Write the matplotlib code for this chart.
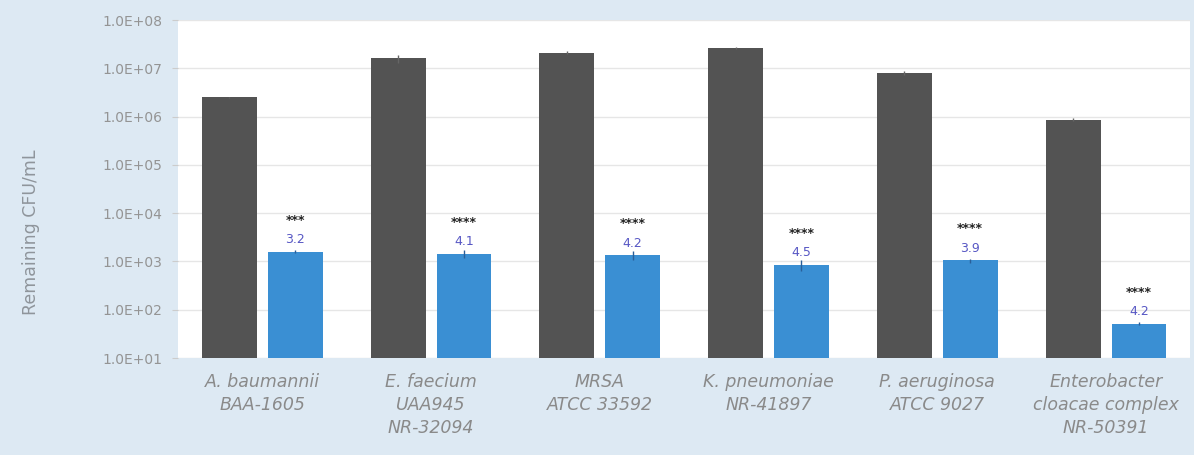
import numpy as np
import matplotlib.pyplot as plt
from matplotlib.ticker import FixedLocator, FuncFormatter

# Strains on the x axis
strains = ["A. baumannii\nBAA-1605",
           "E. faecium\nUAA945\nNR-32094",
           "MRSA\nATCC 33592",
           "K. pneumoniae\nNR-41897",
           "P. aeruginosa\nATCC 9027",
           "Enterobacter\ncloacae complex\nNR-50391"]

# Remaining CFU/mL
control = [2.5e6, 1.6e7, 2.1e7, 2.6e7, 8.0e6, 8.7e5]
control_err = [0.1e6, 0.3e7, 0.15e7, 0.1e7, 0.8e6, 0.5e5]
treated = [1.6e3, 1.45e3, 1.35e3, 8.5e2, 1.05e3, 5.2e1]
treated_err = [0.1e3, 0.25e3, 0.3e3, 0.2e3, 0.1e3, 0.3e1]

stars = ["***", "****", "****", "****", "****", "****"]
log_red = ["3.2", "4.1", "4.2", "4.5", "3.9", "4.2"]

bg = "#dde9f3"
dark = "#535353"
blue = "#3a8fd3"
txt = "#8a8a8a"

fig = plt.figure(figsize=(11.94, 4.55), dpi=100, facecolor=bg)
ax = fig.add_axes([0.149, 0.213, 0.848, 0.743])
ax.set_facecolor("white")

x = np.arange(len(strains))
w = 0.325
off = 0.195

ax.bar(x - off, control, w, color=dark, yerr=control_err,
       error_kw=dict(ecolor="#666666", elinewidth=1, capsize=0), zorder=3)
ax.bar(x + off, treated, w, color=blue, yerr=treated_err,
       error_kw=dict(ecolor="#2a5f99", elinewidth=1, capsize=0), zorder=3)

for i in range(len(strains)):
    top = treated[i]
    ax.annotate(log_red[i], (x[i] + off, top), xytext=(0, 4),
                textcoords="offset points", ha="center", va="bottom",
                fontsize=9, color="#5757c4", zorder=4)
    ax.annotate(stars[i], (x[i] + off, top), xytext=(0, 18),
                textcoords="offset points", ha="center", va="bottom",
                fontsize=9, fontweight="bold", color="#222222", zorder=4)

ax.set_yscale("log")
ax.set_ylim(1e1, 1e8)
ax.set_xlim(-0.5, 5.5)
ax.yaxis.set_major_locator(FixedLocator([10.0 ** k for k in range(1, 9)]))
ax.yaxis.set_minor_locator(FixedLocator([]))
ax.yaxis.set_major_formatter(FuncFormatter(lambda v, p: "1.0E+%02d" % round(np.log10(v))))
ax.grid(axis="y", color="#e6e6e6", linewidth=1, zorder=0)

ax.set_xticks(x)
ax.set_xticklabels(strains, fontsize=12.5, style="italic", color=txt, linespacing=1.35)
ax.tick_params(axis="x", length=0, pad=11)
ax.tick_params(axis="y", labelsize=10, labelcolor="#949494", color="#cccccc", length=4, pad=7)

for s in ax.spines.values():
    s.set_visible(False)

fig.text(0.026, 0.49, "Remaining CFU/mL", rotation=90, ha="center", va="center",
         fontsize=12.5, color="#8f959b")

fig.savefig("out.png", dpi=100, facecolor=bg)
